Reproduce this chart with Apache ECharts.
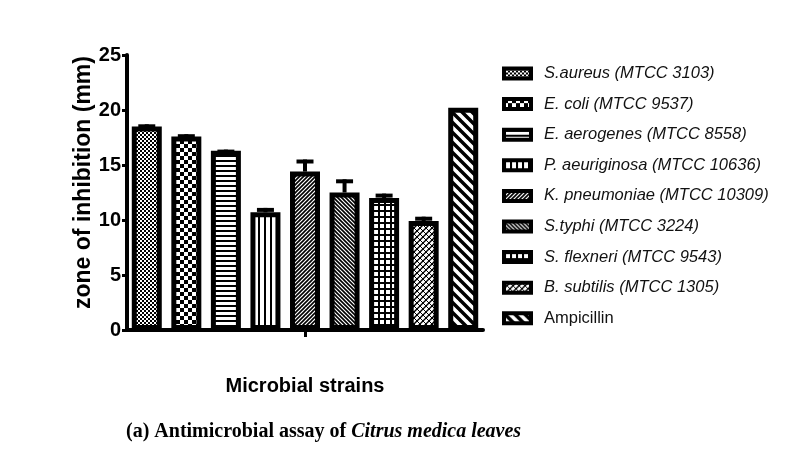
<!DOCTYPE html>
<html>
<head>
<meta charset="utf-8">
<script src="https://cdn.jsdelivr.net/npm/echarts@6/dist/echarts.min.js"></script>
<style>
html, body { margin: 0; padding: 0; background: #fff; }
#chart { width: 786px; height: 456px; }
</style>
</head>
<body>
<div id="chart"></div>
<script>
// data
const strains = [
    'S.aureus (MTCC 3103)',
    'E. coli (MTCC 9537)',
    'E. aerogenes (MTCC 8558)',
    'P. aeuriginosa (MTCC 10636)',
    'K. pneumoniae (MTCC 10309)',
    'S.typhi (MTCC 3224)',
    'S. flexneri (MTCC 9543)',
    'B. subtilis (MTCC 1305)',
    'Ampicillin'
];
const zoneMeans = [18.5, 17.6, 16.3, 10.7, 14.4, 12.5, 12.0, 9.9, 20.2];
const zoneErrors = [0.2, 0.2, 0.1, 0.4, 1.1, 1.2, 0.4, 0.4, 0];
const yTicks = [0, 5, 10, 15, 20, 25];
const xCategory = ['Microbial strains'];

// hatch fills, one per strain
function makePattern(w, h, draw) {
    const c = document.createElement('canvas');
    c.width = w;
    c.height = h;
    const ctx = c.getContext('2d');
    ctx.fillStyle = '#fff';
    ctx.fillRect(0, 0, w, h);
    ctx.fillStyle = '#000';
    ctx.strokeStyle = '#000';
    draw(ctx, w, h);
    return { image: c, repeat: 'repeat' };
}

function diag(ctx, p, lw, forward) {
    ctx.lineWidth = lw;
    ctx.beginPath();
    for (let k = -1; k <= 1; k++) {
        if (forward) {
            ctx.moveTo(k * p - 1, p + 1);
            ctx.lineTo(k * p + p + 1, -1);
        } else {
            ctx.moveTo(k * p - 1, -1);
            ctx.lineTo(k * p + p + 1, p + 1);
        }
    }
    ctx.stroke();
}

const patterns = [
    makePattern(4, 4, (ctx) => { ctx.fillRect(0, 0, 4, 4); ctx.fillStyle = '#fff'; ctx.fillRect(0, 0, 2, 2); ctx.fillRect(2, 2, 2, 2); }),
    makePattern(8, 8, (ctx) => { ctx.fillRect(0, 0, 4, 4); ctx.fillRect(4, 4, 4, 4); }),
    makePattern(4, 5, (ctx) => { ctx.fillRect(0, 0, 4, 2); }),
    makePattern(6, 4, (ctx) => { ctx.fillRect(0, 0, 2, 4); }),
    makePattern(4, 4, (ctx) => diag(ctx, 4, 1.6, true)),
    makePattern(4, 4, (ctx) => diag(ctx, 4, 1.6, false)),
    makePattern(6, 6, (ctx) => { ctx.fillRect(0, 0, 6, 6); ctx.fillStyle = '#fff'; ctx.fillRect(2, 2, 4, 4); }),
    makePattern(6, 6, (ctx) => { diag(ctx, 6, 1.4, true); diag(ctx, 6, 1, false); }),
    makePattern(10, 10, (ctx) => diag(ctx, 10, 3.5, false))
];

let series = strains.map((name, i) => ({
    name: name,
    type: 'bar',
    xAxisIndex: 1,
    barWidth: 30,
    barGap: '-100%',
    itemStyle: { color: patterns[i], borderColor: '#000', borderWidth: 5 },
    data: strains.map((s, j) => (j === i ? zoneMeans[i] : '-'))
}));

series.push({
    name: 'sem',
    type: 'custom',
    xAxisIndex: 1,
    z: 5,
    data: zoneMeans.map((m, i) => [i, m, zoneErrors[i]]),
    renderItem: function (params, api) {
        const err = api.value(2);
        if (!err) return null;
        const base = api.coord([api.value(0), api.value(1)]);
        const top = api.coord([api.value(0), api.value(1) + err]);
        return {
            type: 'group',
            children: [
                { type: 'rect', shape: { x: base[0] - 2, y: top[1], width: 4, height: base[1] - top[1] }, style: { fill: '#000' } },
                { type: 'rect', shape: { x: base[0] - 8.5, y: top[1], width: 17, height: 4 }, style: { fill: '#000' } }
            ]
        };
    }
});

const chart = echarts.init(document.getElementById('chart'));

chart.setOption({
    animation: false,
    backgroundColor: '#fff',
    title: {
        text: '{a|(a) Antimicrobial assay of }{b|Citrus medica leaves}',
        left: 121,
        top: 417,
        textStyle: {
            rich: {
                a: { fontFamily: 'Liberation Serif', fontWeight: 'bold', fontSize: 20, color: '#000' },
                b: { fontFamily: 'Liberation Serif', fontWeight: 'bold', fontStyle: 'italic', fontSize: 20, color: '#000' }
            }
        }
    },
    grid: { left: 127, right: 303, top: 55, bottom: 126 },
    legend: {
        orient: 'vertical',
        left: 497,
        top: 60,
        icon: 'rect',
        itemWidth: 27,
        itemHeight: 10,
        itemGap: 13.6,
        data: strains,
        itemStyle: { borderWidth: 4, borderColor: '#000' },
        formatter: (name) => (name === 'Ampicillin' ? '{n|' + name + '}' : '{i|' + name + '}'),
        textStyle: {
            rich: {
                i: { fontFamily: 'Liberation Sans', fontStyle: 'italic', fontSize: 16.5, color: '#111', lineHeight: 16, padding: [0, 0, 0, 8] },
                n: { fontFamily: 'Liberation Sans', fontSize: 16.5, color: '#111', lineHeight: 16, padding: [0, 0, 0, 8] }
            }
        }
    },
    xAxis: [
        {
            type: 'category',
            data: xCategory,
            axisLine: { lineStyle: { color: '#000', width: 4 } },
            axisTick: { show: true, alignWithLabel: true, length: 7, lineStyle: { color: '#000', width: 3 } },
            axisLabel: { show: false },
            name: 'Microbial strains',
            nameLocation: 'middle',
            nameGap: 46,
            nameTextStyle: { fontFamily: 'Liberation Sans', fontWeight: 'bold', fontSize: 20, color: '#000' }
        },
        {
            type: 'category',
            data: strains,
            show: false
        }
    ],
    yAxis: {
        type: 'value',
        min: yTicks[0],
        max: yTicks[yTicks.length - 1],
        interval: yTicks[1] - yTicks[0],
        axisLine: { show: true, lineStyle: { color: '#000', width: 4 } },
        axisTick: { show: true, length: 5, lineStyle: { color: '#000', width: 3 } },
        splitLine: { show: false },
        axisLabel: { fontFamily: 'Liberation Sans', fontWeight: 'bold', fontSize: 20, color: '#000', margin: 6 },
        name: 'zone of inhibition (mm)',
        nameLocation: 'middle',
        nameGap: 27,
        nameTextStyle: { fontFamily: 'Liberation Sans', fontWeight: 'bold', fontSize: 23, color: '#000', padding: [0, 0, 0, 20] }
    },
    series: series
});
</script>
</body>
</html>
